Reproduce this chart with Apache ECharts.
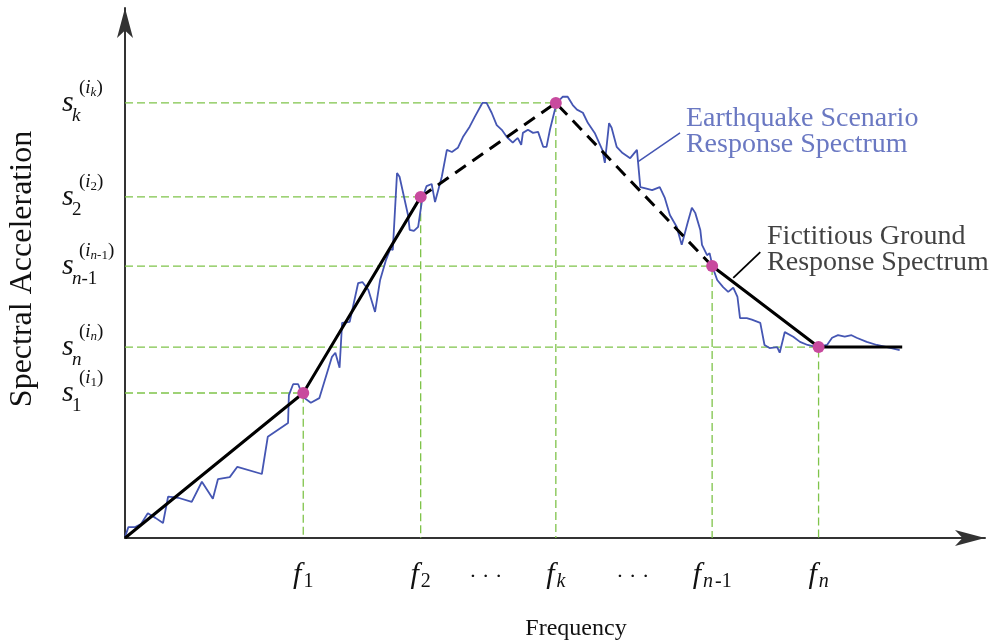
<!DOCTYPE html>
<html><head><meta charset="utf-8">
<script src="https://cdn.jsdelivr.net/npm/echarts@6/dist/echarts.min.js"></script>
<style>html,body{margin:0;padding:0;background:#fff}#c{width:994px;height:641px}</style>
</head><body><div id="c"></div>
<script>
// ---- data (arbitrary units) ----
const pointKeys = ['1', '2', 'k', 'n-1', 'n'];
const freqValues = [2.11, 3.50, 5.10, 6.95, 8.21];
const accelValues = [2.81, 6.61, 8.43, 5.27, 3.70];
const flatEndX = 9.20;
const ellipsisX = [4.27, 6.01];
const xAxisMax = 10.18;
const yAxisMax = 10.27;
const blueX = [0.00,0.04,0.12,0.19,0.27,0.36,0.45,0.51,0.63,0.79,0.91,1.04,1.10,1.24,1.33,1.62,1.69,1.93,1.94,1.99,2.05,2.11,2.20,2.30,2.45,2.49,2.54,2.57,2.66,2.76,2.81,2.88,2.96,3.02,3.09,3.14,3.17,3.22,3.25,3.35,3.37,3.42,3.47,3.52,3.57,3.63,3.67,3.75,3.81,3.87,3.94,4.00,4.08,4.14,4.23,4.28,4.34,4.40,4.46,4.52,4.59,4.62,4.65,4.69,4.71,4.77,4.83,4.89,4.95,4.99,5.03,5.08,5.11,5.18,5.24,5.30,5.35,5.42,5.48,5.56,5.65,5.68,5.73,5.76,5.82,5.89,5.98,6.06,6.10,6.15,6.24,6.30,6.33,6.39,6.45,6.53,6.59,6.66,6.71,6.75,6.81,6.83,6.89,6.92,6.96,7.01,7.08,7.14,7.20,7.25,7.28,7.36,7.42,7.52,7.57,7.63,7.72,7.75,7.81,7.91,7.99,8.08,8.19,8.31,8.37,8.44,8.52,8.60,8.66,8.78,8.90,9.02,9.17];
const blueY = [0.02,0.21,0.21,0.27,0.48,0.39,0.29,0.80,0.78,0.70,1.09,0.76,1.14,1.18,1.38,1.24,1.96,2.23,2.77,2.98,2.98,2.73,2.62,2.71,3.51,3.59,3.30,4.17,4.19,4.94,4.96,4.81,4.38,5.00,5.39,5.60,5.58,7.07,7.00,6.26,5.97,5.95,6.03,6.59,6.82,6.86,6.51,7.00,7.52,7.48,7.56,7.77,7.97,8.16,8.43,8.43,8.24,8.00,7.91,7.77,7.66,7.71,7.75,7.62,7.85,7.91,7.85,7.87,7.58,7.58,7.91,8.24,8.43,8.55,8.55,8.39,8.30,8.24,8.04,7.85,7.52,7.27,8.04,7.95,7.58,7.46,7.36,7.52,6.80,6.78,6.74,6.78,6.80,6.59,6.26,6.03,5.68,6.11,6.40,6.30,5.97,5.68,5.48,5.52,5.23,5.00,4.86,4.77,4.85,4.67,4.26,4.26,4.23,4.17,3.74,3.68,3.70,3.59,3.99,3.90,3.80,3.74,3.70,3.74,3.88,3.93,3.90,3.93,3.88,3.80,3.74,3.70,3.64];
const blueLeader = [[6.07, 7.29], [6.57, 7.85]];
const blackLeader = [[7.20, 5.04], [7.52, 5.54]];
const annoBlueText = ['Earthquake Scenario', 'Response Spectrum'];
const annoBlackText = ['Fictitious Ground', 'Response Spectrum'];
const annoBlueAt = [6.64, 7.87];
const annoBlackAt = [7.60, 5.59];
const xAxisTitle = 'Frequency';
const yAxisTitle = 'Spectral Acceleration';

// ---- styles ----
const SERIF = 'Liberation Serif';
const BLUE = '#4556b3';
const GREEN = '#7fc34a';
const PINK = '#c84a9e';
const INK = '#111';

function subTokens(key, ital, dig) {
  if (key === 'n-1') return '{' + ital + '|n}{' + dig + '|-1}';
  if (/^\d+$/.test(key)) return '{' + dig + '|' + key + '}';
  return '{' + ital + '|' + key + '}';
}
function yLabel(value) {
  const i = accelValues.indexOf(value);
  if (i < 0) return '';
  const k = pointKeys[i];
  return '{sp| }{p|(}{pi|i}' + subTokens(k, 'ssi', 'ssd') + '{p|)}\n{s|s}\n{sp3| }' + subTokens(k, 'subi', 'subd');
}
function xLabel(value) {
  const i = freqValues.indexOf(value);
  if (i >= 0) return '{f|f}' + subTokens(pointKeys[i], 'fsi', 'fsd');
  return '{dots|· · ·}';
}

const guides = freqValues.map((f, i) => ({
  type: 'line', silent: true, symbol: 'none', z: 1,
  lineStyle: { color: GREEN, width: 1.3, type: [8, 4] },
  data: [[0, accelValues[i]], [f, accelValues[i]], [f, 0]]
}));

const black = c => ({ color: '#000', width: 3, type: c });
const pts = freqValues.map((f, i) => [f, accelValues[i]]);

const option = {
  animation: false,
  backgroundColor: '#fff',
  grid: { left: 125, right: 9, top: 8, bottom: 103, outerBoundsMode: 'none', containLabel: false },
  xAxis: {
    type: 'value', min: 0, max: xAxisMax,
    name: xAxisTitle, nameLocation: 'middle', nameGap: 79,
    nameTextStyle: { fontFamily: SERIF, fontSize: 24, color: INK, padding: [0, 0, 0, 42] },
    axisLine: { lineStyle: { color: '#333', width: 2 }, symbol: ['none', 'arrow'], symbolSize: [12, 30] },
    axisTick: { show: false }, splitLine: { show: false },
    axisLabel: {
      customValues: freqValues.concat(ellipsisX).sort((a, b) => a - b),
      formatter: xLabel, margin: 22, color: INK,
      rich: {
        f: { fontFamily: SERIF, fontStyle: 'italic', fontSize: 30, color: INK, lineHeight: 30 },
        fsi: { fontFamily: SERIF, fontStyle: 'italic', fontSize: 20, color: INK, lineHeight: 30, padding: [14, 0, 0, 2] },
        fsd: { fontFamily: SERIF, fontSize: 20, color: INK, lineHeight: 30, padding: [14, 0, 0, 2] },
        dots: { fontFamily: SERIF, fontSize: 22, color: INK, lineHeight: 30, padding: [4, 0, 0, 0] }
      }
    }
  },
  yAxis: {
    type: 'value', min: 0, max: yAxisMax,
    name: yAxisTitle, nameLocation: 'middle', nameGap: 86, nameRotate: 90,
    nameTextStyle: { fontFamily: SERIF, fontSize: 32, color: INK, padding: [0, 0, 0, 8] },
    axisLine: { lineStyle: { color: '#333', width: 2 }, symbol: ['none', 'arrow'], symbolSize: [12, 30] },
    axisTick: { show: false }, splitLine: { show: false },
    axisLabel: {
      customValues: accelValues.slice(),
      formatter: yLabel, margin: 63, align: 'left', verticalAlign: 'middle', padding: [0, 0, 4, 0],
      rich: {
        sp: { width: 17, fontSize: 19, lineHeight: 18 },
        p: { fontFamily: SERIF, fontSize: 19, color: INK, lineHeight: 18 },
        pi: { fontFamily: SERIF, fontStyle: 'italic', fontSize: 19, color: INK, lineHeight: 18 },
        ssi: { fontFamily: SERIF, fontStyle: 'italic', fontSize: 13, color: INK, lineHeight: 18, padding: [9, 0, 0, 0] },
        ssd: { fontFamily: SERIF, fontSize: 13, color: INK, lineHeight: 18, padding: [9, 0, 0, 0] },
        s: { fontFamily: SERIF, fontStyle: 'italic', fontSize: 30, color: INK, lineHeight: 12 },
        sp3: { width: 10, fontSize: 19, lineHeight: 14 },
        subi: { fontFamily: SERIF, fontStyle: 'italic', fontSize: 19, color: INK, lineHeight: 14 },
        subd: { fontFamily: SERIF, fontSize: 19, color: INK, lineHeight: 14 }
      }
    }
  },
  series: guides.concat([
    { type: 'line', symbol: 'none', z: 2, lineStyle: { color: BLUE, width: 1.8 },
      data: blueX.map((x, i) => [x, blueY[i]]) },
    { type: 'line', symbol: 'none', z: 3, lineStyle: black('solid'), data: [[0, 0], pts[0], pts[1]] },
    { type: 'line', symbol: 'none', z: 3, lineStyle: black([13, 8]), data: [pts[1], pts[2], pts[3]] },
    { type: 'line', symbol: 'none', z: 3, lineStyle: black('solid'), data: [pts[3], pts[4], [flatEndX, accelValues[4]]] },
    { type: 'line', symbol: 'none', z: 3, lineStyle: { color: BLUE, width: 1.5 }, data: blueLeader },
    { type: 'line', symbol: 'none', z: 3, lineStyle: { color: '#000', width: 1.8 }, data: blackLeader },
    { type: 'scatter', z: 5, symbolSize: 12, itemStyle: { color: PINK, opacity: 1 }, data: pts },
    { type: 'scatter', z: 5, symbolSize: 0, data: [annoBlueAt],
      label: { show: true, position: 'right', distance: 0, formatter: annoBlueText.join('\n'),
        fontFamily: SERIF, fontSize: 28, lineHeight: 26, color: BLUE, align: 'left', verticalAlign: 'middle' } },
    { type: 'scatter', z: 5, symbolSize: 0, data: [annoBlackAt],
      label: { show: true, position: 'right', distance: 0, formatter: annoBlackText.join('\n'),
        fontFamily: SERIF, fontSize: 28, lineHeight: 26, color: INK, align: 'left', verticalAlign: 'middle' } }
  ])
};
const chart = echarts.init(document.getElementById('c'), null, { renderer: 'canvas' });
chart.setOption(option);
</script></body></html>
